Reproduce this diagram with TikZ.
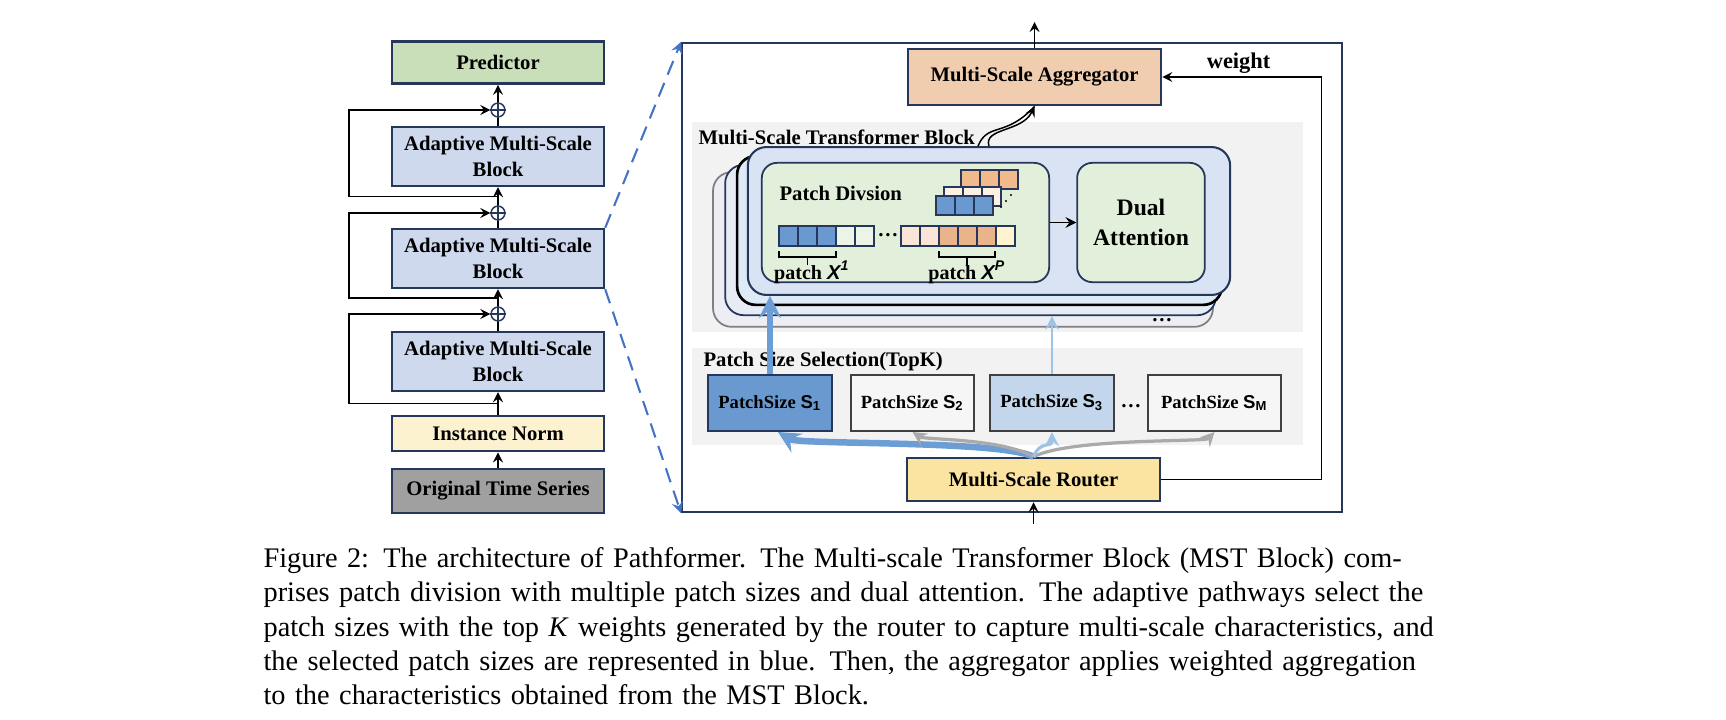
\documentclass[tikz,border=0pt]{standalone}
\usepackage{fontspec}
\setmainfont{Liberation Serif}
\newfontfamily\arialfont{Liberation Sans}
\usetikzlibrary{arrows,positioning,calc}
\definecolor{navyline}{RGB}{38,55,92}
\definecolor{predgreen}{RGB}{201,223,185}
\definecolor{amsblue}{RGB}{206,217,237}
\definecolor{normyellow}{RGB}{253,242,207}
\definecolor{origgray}{RGB}{160,160,160}
\definecolor{aggorange}{RGB}{241,205,176}
\definecolor{routeryellow}{RGB}{251,228,161}
\definecolor{bggray}{RGB}{242,242,242}
\definecolor{boxwhite}{RGB}{246,246,246}
\definecolor{mstblue}{RGB}{218,227,243}
\definecolor{layerblue}{RGB}{222,234,246}
\definecolor{layerpale}{RGB}{230,235,244}
\definecolor{layergray}{RGB}{236,238,243}
\definecolor{divgreen}{RGB}{226,239,218}
\definecolor{selblue}{RGB}{106,153,208}
\definecolor{sellight}{RGB}{195,214,236}
\definecolor{arrowblue}{RGB}{108,157,213}
\definecolor{arrowlight}{RGB}{157,195,230}
\definecolor{fangray}{RGB}{170,170,170}
\definecolor{dashblue}{RGB}{68,114,196}
\definecolor{sqblue}{RGB}{106,153,208}
\definecolor{sqorange}{RGB}{233,180,138}
\definecolor{sqpink}{RGB}{250,228,214}
\definecolor{sqyellow}{RGB}{255,243,208}
\definecolor{sqcream}{RGB}{253,241,228}
\definecolor{sqgreen}{RGB}{236,244,230}
\definecolor{backorange}{RGB}{241,185,140}
\newcommand{\psym}[1]{{\arialfont\bfseries S}\textsubscript{\arialfont\bfseries #1}}
\newcommand{\patchx}[1]{{\arialfont\bfseries\itshape X}\textsuperscript{\arialfont\bfseries\itshape #1}}

\begin{document}
\begin{tikzpicture}[
    x=0.0119cm, y=-0.0119cm,
    box/.style={rectangle, draw=navyline, line width=0.9pt, minimum width=2.52cm, align=center, inner sep=1pt, font=\fontsize{7}{8.8}\selectfont\bfseries},
    layer/.style={rectangle, rounded corners=0.22cm, inner sep=0},
    inbox/.style={rectangle, draw=navyline, line width=0.6pt, rounded corners=0.18cm, fill=divgreen, minimum height=1.42cm, inner sep=0},
    bgpanel/.style={rectangle, fill=bggray, minimum width=7.27cm, inner sep=0},
    psbox/.style={rectangle, draw=darkgray, line width=0.6pt, minimum height=0.67cm, inner sep=0, font=\fontsize{6.3}{7}\selectfont\bfseries},
    head/.style={font=\fontsize{7}{8.5}\selectfont\bfseries, inner sep=0},
    addnode/.style={circle, draw=navyline, line width=0.5pt, minimum size=0.165cm, inner sep=0, fill=white},
    sq/.style={draw=navyline, line width=0.7pt},
    arrow/.style={-stealth, line width=0.5pt},
    dasharrow/.style={-stealth, dash pattern=on 5pt off 3pt, dashblue, line width=0.7pt},
    fan/.style={-stealth, line width=1.1pt},
    captext/.style={font=\fontsize{9.6}{11.6}\selectfont, text width=400pt, align=left, inner sep=0}
]
\useasboundingbox (0,0) rectangle (1726,720);

% ------------------ Left Stack ------------------
\node[box, fill=predgreen, minimum height=0.50cm] (pred) at (498,62.5) {Predictor};
\node[box, fill=amsblue, minimum height=0.70cm] (ams1) at (498,156.5) {Adaptive Multi-Scale\\Block};
\node[box, fill=amsblue, minimum height=0.70cm] (ams2) at (498,258.5) {Adaptive Multi-Scale\\Block};
\node[box, fill=amsblue, minimum height=0.70cm] (ams3) at (498,361.5) {Adaptive Multi-Scale\\Block};
\node[box, fill=normyellow, minimum height=0.42cm] (inorm) at (498,433.5) {Instance Norm};
\node[box, fill=origgray, minimum height=0.52cm] (orig) at (498,491) {Original Time Series};

\node[addnode] (add1) at (498,110) {};
\node[addnode] (add2) at (498,213) {};
\node[addnode] (add3) at (498,314) {};
\foreach \a in {add1,add2,add3}
    \draw[navyline, line width=0.5pt] (\a.north) -- (\a.south) (\a.west) -- (\a.east);

\draw[arrow] (orig) -- (inorm);
\draw[arrow] (inorm) -- (ams3);
\draw[line width=0.5pt] (ams3) -- (add3);
\draw[arrow] (add3) -- (ams2);
\draw[line width=0.5pt] (ams2) -- (add2);
\draw[arrow] (add2) -- (ams1);
\draw[line width=0.5pt] (ams1) -- (add1);
\draw[arrow] (add1) -- (pred);

% residual paths
\draw[arrow] ($(inorm.north)!0.5!(ams3.south)$) -- ++(-149,0) |- (add3.west);
\draw[arrow] ($(add3.north)!0.5!(ams2.south)$) -- ++(-149,0) |- (add2.west);
\draw[arrow] ($(add2.north)!0.5!(ams1.south)$) -- ++(-149,0) |- (add1.west);

% ------------------ Zoomed Block ------------------
\node[rectangle, draw=navyline, line width=0.8pt, minimum width=7.85cm, minimum height=5.58cm, inner sep=0] (mainbox) at (1012,277.5) {};

\draw[dasharrow] (ams2.north east) -- (mainbox.north west);
\draw[dasharrow] (ams2.south east) -- (mainbox.south west);

\node[bgpanel, minimum height=2.50cm] (mstbg) at (997.5,227) {};
\node[bgpanel, minimum height=1.15cm] (pssbg) at (997.5,396.5) {};
\node[head, anchor=west] (msttitle) at (698,137) {Multi-Scale Transformer Block};
\node[head, anchor=west] (psstitle) at (703,362) {Patch Size Selection(TopK)};

% stacked transformer blocks
\node[layer, draw=gray, line width=0.6pt, fill=layergray, minimum width=5.95cm, minimum height=1.84cm] (mstc) at (963,249.5) {};
\node[layer, draw=navyline, line width=0.6pt, fill=layerpale, minimum width=5.84cm, minimum height=1.79cm] (mstb) at (970.5,240) {};
\node[layer, draw=black, line width=0.9pt, fill=layerblue, minimum width=5.77cm, minimum height=1.77cm] (msta) at (979.5,230.5) {};
\node[layer, draw=navyline, line width=0.7pt, fill=mstblue, minimum width=5.74cm, minimum height=1.76cm] (mst) at (989,221) {};
\node[font=\bfseries\fontsize{7}{8}\selectfont, inner sep=0] (mstdots) at (1162,320) {\dots};

\node[inbox, minimum width=3.42cm] (pdiv) at (905.5,222.5) {};
\node[head, anchor=west] (pdivtitle) at (779,193) {Patch Divsion};
\node[inbox, minimum width=1.52cm, align=center, font=\fontsize{8}{10}\selectfont\bfseries] (dual) at (1141,222.5) {Dual\\Attention};
\draw[arrow, line width=0.6pt] (pdiv) -- (dual);

% patch squares
\foreach \c [count=\i from 0] in {backorange,backorange,backorange}
    \draw[sq, fill=\c] (961+19*\i,170) rectangle ++(19,19);
\foreach \c [count=\i from 0] in {sqcream,sqcream,sqcream}
    \draw[sq, fill=\c] (944+19*\i,187) rectangle ++(19,19);
\foreach \c [count=\i from 0] in {sqblue,sqblue,sqblue}
    \draw[sq, fill=\c] (936+19*\i,196) rectangle ++(19,19);
\foreach \p in {(1001,207),(1006,201),(1011,195)}
    \fill \p circle (0.4pt);
\foreach \c [count=\i from 0] in {sqblue,sqblue,sqblue,sqgreen,sqgreen}
    \draw[sq, fill=\c] (779+19*\i,226) rectangle ++(19,20);
\foreach \c [count=\i from 0] in {sqpink,sqpink,sqorange,sqorange,sqorange,sqyellow}
    \draw[sq, fill=\c] (901+19*\i,226) rectangle ++(19,20);
\node[font=\bfseries\fontsize{7}{8}\selectfont, inner sep=0] (rowdots) at (888,235) {\dots};

\draw[line width=0.5pt] (779,251) -- (779,257) -- (836,257) -- (836,251) (807.5,257) -- (807.5,265);
\draw[line width=0.5pt] (939,251) -- (939,257) -- (995,257) -- (995,251) (967,257) -- (967,265);
\node[font=\fontsize{6.8}{7}\selectfont\bfseries, inner sep=0] (px1) at (812,272) {patch \patchx{1}};
\node[font=\fontsize{6.8}{7}\selectfont\bfseries, inner sep=0] (pxp) at (967,272) {patch \patchx{P}};

% aggregator and router
\node[box, fill=aggorange, minimum width=3.01cm, minimum height=0.67cm] (agg) at (1034.5,77) {Multi-Scale Aggregator};
\node[box, fill=routeryellow, minimum width=3.01cm, minimum height=0.51cm] (router) at (1033.5,479.5) {Multi-Scale Router};
\coordinate (out) at (1033,22);
\coordinate (in) at (1031,524);
\draw[arrow] (agg.north) -- (agg.north |- out);
\draw[arrow] (router.south |- in) -- (router.south);
\draw[arrow] (router.east) -- ++(160,0) |- (agg.east) node[pos=0.76, above=1pt, head, font=\fontsize{7.6}{8}\selectfont\bfseries] (weightlbl) {weight};

\draw[line width=0.5pt] ($(mst.north)+(-11,0)$) .. controls (988,122) and (1005,138) .. (agg.south);
\draw[arrow] (mst.north) .. controls (983,128) and (1022,132) .. (agg.south);

% patch sizes
\node[psbox, fill=selblue, draw=navyline, minimum width=1.48cm] (s1) at (770,403) {PatchSize \psym{1}};
\node[psbox, fill=boxwhite, minimum width=1.46cm] (s2) at (912.5,403) {PatchSize \psym{2}};
\node[psbox, fill=sellight, minimum width=1.48cm] (s3) at (1052,403) {PatchSize \psym{3}};
\node[psbox, fill=boxwhite, minimum width=1.58cm] (sm) at (1214.5,403) {PatchSize \psym{M}};
\node[font=\bfseries\fontsize{7}{8}\selectfont, inner sep=0] (psdots) at (1131,406) {\dots};

\draw[fan, arrowblue, line width=2.2pt] (router.north) .. controls (1000,440) and (800,445) .. ($(s1.south)+(8,0)$);
\draw[fan, fangray] (router.north) .. controls (1000,438) and (925,440) .. (s2.south);
\draw[fan, fangray] (router.north) .. controls (1070,438) and (1205,442) .. (sm.south);
\draw[fan, arrowlight] (router.north) .. controls (1040,440) and (1052,448) .. (s3.south);

\draw[arrow, arrowblue, line width=2.2pt] (s1.north) -- (s1.north |- mst.south);
\draw[arrow, arrowlight, line width=1pt] (s3.north) -- (s3.north |- mstb.south);

% ------------------ Caption ------------------
\node[captext, anchor=north west] (caption) at (263,547) {%
\makebox[400pt][s]{Figure 2: The architecture of Pathformer. The Multi-scale Transformer Block (MST Block) com-}\\
\makebox[400pt][s]{prises patch division with multiple patch sizes and dual attention. The adaptive pathways select the}\\
\makebox[400pt][s]{patch sizes with the top \textit{K} weights generated by the router to capture multi-scale characteristics, and}\\
\makebox[400pt][s]{the selected patch sizes are represented in blue. Then, the aggregator applies weighted aggregation}\\
to the characteristics obtained from the MST Block.};

\end{tikzpicture}
\end{document}
